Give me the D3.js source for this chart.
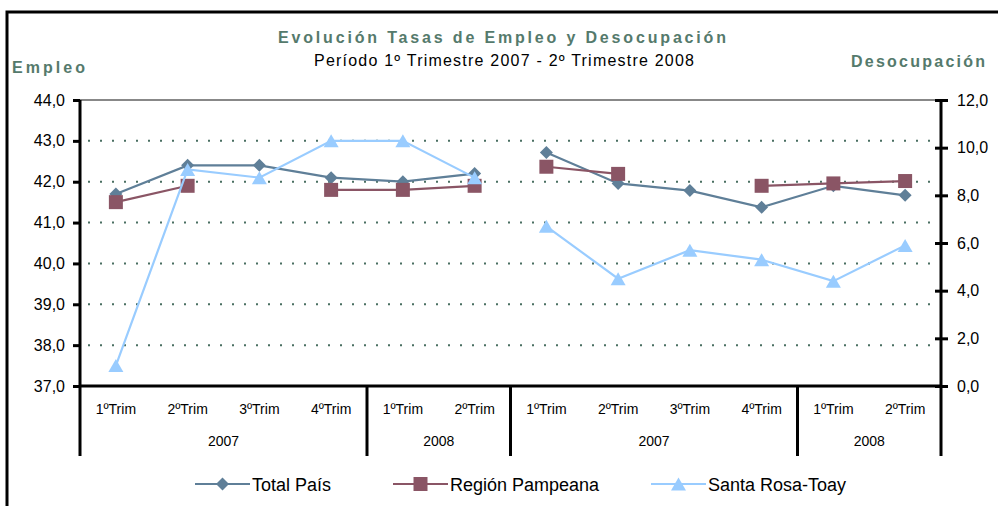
<!DOCTYPE html>
<html>
<head>
<meta charset="utf-8">
<script src="https://cdn.jsdelivr.net/npm/d3@7"></script>
<style>
  body { margin: 0; background: #fff; }
  text { font-family: "Liberation Sans", Arial, sans-serif; }
</style>
</head>
<body>
<div id="chart"></div>
<script>
// quarter labels, two blocks of six (empleo block, desocupacion block)
const quarters = ['1ºTrim', '2ºTrim', '3ºTrim', '4ºTrim', '1ºTrim', '2ºTrim',
                  '1ºTrim', '2ºTrim', '3ºTrim', '4ºTrim', '1ºTrim', '2ºTrim'];
const yearGroups = [['2007', 4], ['2008', 2], ['2007', 4], ['2008', 2]];

// Tasa de empleo (left axis)
const empleoTotal = [41.7, 42.4, 42.4, 42.1, 42.0, 42.2];
const empleoPampeana = [41.5, 41.9, null, 41.8, 41.8, 41.9];
const empleoSantaRosa = [37.5, 42.3, 42.1, 43.0, 43.0, 42.1];

// Tasa de desocupacion (right axis)
const desocTotal = [9.8, 8.5, 8.2, 7.5, 8.4, 8.0];
const desocPampeana = [9.2, 8.9, null, 8.4, 8.5, 8.6];
const desocSantaRosa = [6.7, 4.5, 5.7, 5.3, 4.4, 5.9];

const seriesNames = ['Total País', 'Región Pampeana', 'Santa Rosa-Toay'];
const leftTicks = [37, 38, 39, 40, 41, 42, 43, 44];
const rightTicks = [0, 2, 4, 6, 8, 10, 12];

const colors = ['#5f7f98', '#8a5565', '#99ccff'];
const markers = [
    'M0,-6.5L6.5,0L0,6.5L-6.5,0Z',
    'M-7,-7h14v14h-14Z',
    'M0,-6.5L7.5,6.5L-7.5,6.5Z'
];
const titleColor = '#557a6c';

const width = 998, height = 506;
const svg = d3.select('#chart').append('svg')
    .attr('width', width)
    .attr('height', height);

// outer frame (only top and left visible)
svg.append('path')
    .attr('d', 'M7,506V12H998')
    .attr('fill', 'none')
    .attr('stroke', '#000')
    .attr('stroke-width', 3);

const x = d3.scaleBand().domain(d3.range(12)).range([80, 941]);
const yLeft = d3.scaleLinear().domain([37, 44]).range([386, 100]);
const yRight = d3.scaleLinear().domain([0, 12]).range([386, 100]);
const fmt = d => d.toFixed(1).replace('.', ',');

// titles
svg.append('text')
    .attr('x', 278).attr('y', 43)
    .attr('textLength', 448).attr('lengthAdjust', 'spacing')
    .attr('font-size', 16).attr('font-weight', 'bold')
    .attr('fill', titleColor)
    .text('Evolución Tasas de Empleo y Desocupación');
svg.append('text')
    .attr('x', 314).attr('y', 66)
    .attr('textLength', 380).attr('lengthAdjust', 'spacing')
    .attr('font-size', 16)
    .attr('fill', '#000')
    .text('Período 1º Trimestre 2007  -  2º Trimestre 2008');
svg.append('text')
    .attr('x', 12).attr('y', 73)
    .attr('textLength', 73).attr('lengthAdjust', 'spacing')
    .attr('font-size', 16).attr('font-weight', 'bold')
    .attr('fill', titleColor)
    .text('Empleo');
svg.append('text')
    .attr('x', 851).attr('y', 67)
    .attr('textLength', 134).attr('lengthAdjust', 'spacing')
    .attr('font-size', 16).attr('font-weight', 'bold')
    .attr('fill', titleColor)
    .text('Desocupación');

// dotted gridlines
svg.append('g')
    .selectAll('line')
    .data(leftTicks.filter(t => t > 37 && t < 44))
    .join('line')
    .attr('x1', 88).attr('x2', 938)
    .attr('y1', d => yLeft(d)).attr('y2', d => yLeft(d))
    .attr('stroke', '#4a6f62')
    .attr('stroke-width', 2)
    .attr('stroke-dasharray', '2,10');

// top border of plot area
svg.append('line')
    .attr('x1', 80).attr('x2', 941)
    .attr('y1', yLeft(44)).attr('y2', yLeft(44))
    .attr('stroke', '#888')
    .attr('stroke-width', 2);

// left axis
const leftAxis = svg.append('g')
    .attr('transform', 'translate(80,0)')
    .call(d3.axisLeft(yLeft).tickValues(leftTicks).tickFormat(fmt).tickSize(7).tickPadding(8));
leftAxis.select('.domain').remove();
leftAxis.selectAll('.tick line').attr('stroke-width', 3);
leftAxis.selectAll('.tick text').attr('font-size', 16).attr('fill', '#000')
    .attr('font-family', '"Liberation Sans", Arial, sans-serif');

// right axis
const rightAxis = svg.append('g')
    .attr('transform', 'translate(941,0)')
    .call(d3.axisRight(yRight).tickValues(rightTicks).tickFormat(fmt).tickSize(7).tickPadding(9));
rightAxis.select('.domain').remove();
rightAxis.selectAll('.tick line').attr('x1', -6).attr('stroke-width', 3);
rightAxis.selectAll('.tick text').attr('font-size', 16).attr('fill', '#000')
    .attr('font-family', '"Liberation Sans", Arial, sans-serif');

// axis frame: vertical axes, baseline and category separators
const bounds = [0];
yearGroups.forEach(g => bounds.push(bounds[bounds.length - 1] + g[1]));
const edgeX = i => i < 12 ? x(i) : x(11) + x.bandwidth();

svg.append('g')
    .selectAll('line')
    .data(bounds)
    .join('line')
    .attr('x1', d => edgeX(d)).attr('x2', d => edgeX(d))
    .attr('y1', d => (d === 0 || d === 12) ? 100 : 386)
    .attr('y2', 456)
    .attr('stroke', '#000')
    .attr('stroke-width', 3);

svg.append('line')
    .attr('x1', 79).attr('x2', 942)
    .attr('y1', 386).attr('y2', 386)
    .attr('stroke', '#000')
    .attr('stroke-width', 3);

// quarter labels
svg.append('g')
    .selectAll('text')
    .data(quarters)
    .join('text')
    .attr('x', (d, i) => x(i) + x.bandwidth() / 2)
    .attr('y', 414)
    .attr('text-anchor', 'middle')
    .attr('font-size', 14)
    .text(d => d);

// year labels
svg.append('g')
    .selectAll('text')
    .data(yearGroups)
    .join('text')
    .attr('x', (d, i) => (edgeX(bounds[i]) + edgeX(bounds[i + 1])) / 2)
    .attr('y', 446)
    .attr('text-anchor', 'middle')
    .attr('font-size', 14)
    .text(d => d[0]);

// series
const blocks = [
    { offset: 0, y: yLeft, data: [empleoTotal, empleoPampeana, empleoSantaRosa] },
    { offset: 6, y: yRight, data: [desocTotal, desocPampeana, desocSantaRosa] }
];

seriesNames.forEach((name, s) => {
    blocks.forEach(block => {
        const pts = block.data[s].map((v, i) => ({ i: i + block.offset, v }));
        const line = d3.line()
            .defined(d => d.v != null)
            .x(d => x(d.i) + x.bandwidth() / 2)
            .y(d => block.y(d.v));
        svg.append('path')
            .datum(pts)
            .attr('d', line)
            .attr('fill', 'none')
            .attr('stroke', colors[s])
            .attr('stroke-width', 2.2);
        svg.append('g')
            .selectAll('path')
            .data(pts.filter(d => d.v != null))
            .join('path')
            .attr('d', markers[s])
            .attr('transform', d => `translate(${x(d.i) + x.bandwidth() / 2},${block.y(d.v)})`)
            .attr('fill', colors[s]);
    });
});

// legend
const legendX = [195, 393, 651];
const legend = svg.append('g')
    .selectAll('g')
    .data(seriesNames)
    .join('g')
    .attr('transform', (d, i) => `translate(${legendX[i]},484)`);
legend.append('line')
    .attr('x1', 0).attr('x2', 55)
    .attr('stroke', (d, i) => colors[i])
    .attr('stroke-width', 2.2);
legend.append('path')
    .attr('d', (d, i) => markers[i])
    .attr('transform', 'translate(27.5,0)')
    .attr('fill', (d, i) => colors[i]);
legend.append('text')
    .attr('x', 57)
    .attr('y', 6.5)
    .attr('font-size', 18)
    .text(d => d);
</script>
</body>
</html>
